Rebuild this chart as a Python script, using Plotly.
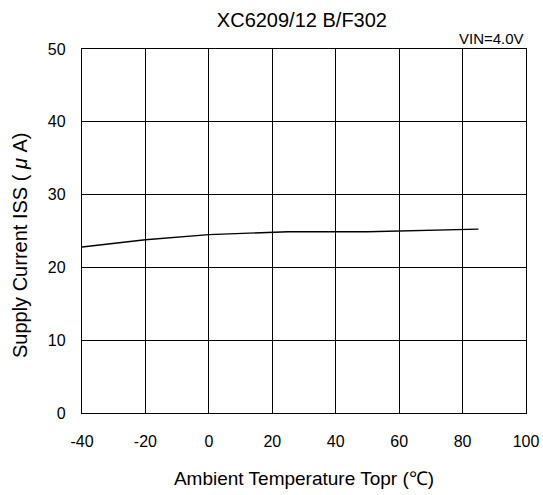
import plotly.graph_objects as go

temps = [-40, -20, 0, 25, 50, 85]
iss = [22.8, 23.8, 24.5, 24.9, 24.9, 25.25]
x_ticks = [-40, -20, 0, 20, 40, 60, 80, 100]
x_labels = ["-40", "-20", "0", "20", "40", "60", "80", "100"]
y_ticks = [0, 10, 20, 30, 40, 50]

FONT = "Liberation Sans, Arial, sans-serif"

fig = go.Figure()
fig.add_trace(go.Scatter(x=temps, y=iss, mode="lines",
                         line=dict(color="black", width=1.3), showlegend=False))

axis_common = dict(showgrid=True, gridcolor="black", gridwidth=1.3, automargin=False,
                   showline=True, linecolor="black", linewidth=1.3, mirror=True,
                   zeroline=False, ticks="", tickfont=dict(size=16, color="black", family=FONT))

fig.update_xaxes(range=[-40, 100], tickvals=x_ticks, ticktext=x_labels, ticklabelstandoff=14,
                 title=dict(text="Ambient Temperature Topr (℃)", font=dict(size=19, color="black", family=FONT), standoff=22),
                 **axis_common)
fig.update_yaxes(range=[0, 50], tickvals=y_ticks, ticklabelstandoff=12, **axis_common)

fig.update_layout(
    width=543, height=495,
    margin=dict(l=82, r=17, t=49, b=82),
    paper_bgcolor="white", plot_bgcolor="white",
    title=dict(text="XC6209/12 B/F302", x=0.556, xanchor="center", y=0.96, yanchor="middle",
               font=dict(size=20, color="black", family=FONT)),
    annotations=[
        dict(text="VIN=4.0V", xref="paper", yref="paper", x=1.0, y=1.0,
             xanchor="right", yanchor="bottom", yshift=0, showarrow=False,
             font=dict(size=15, color="black", family=FONT)),
        dict(text="Supply Current ISS ( <i>μ</i> A)", xref="paper", yref="paper",
             x=-0.1396, y=0.4615, xanchor="center", yanchor="middle", textangle=-90,
             showarrow=False, font=dict(size=20, color="black", family=FONT)),
    ],
)

fig.write_html("out.html", config={"displayModeBar": False},
               post_script="document.body.style.margin='0';")
